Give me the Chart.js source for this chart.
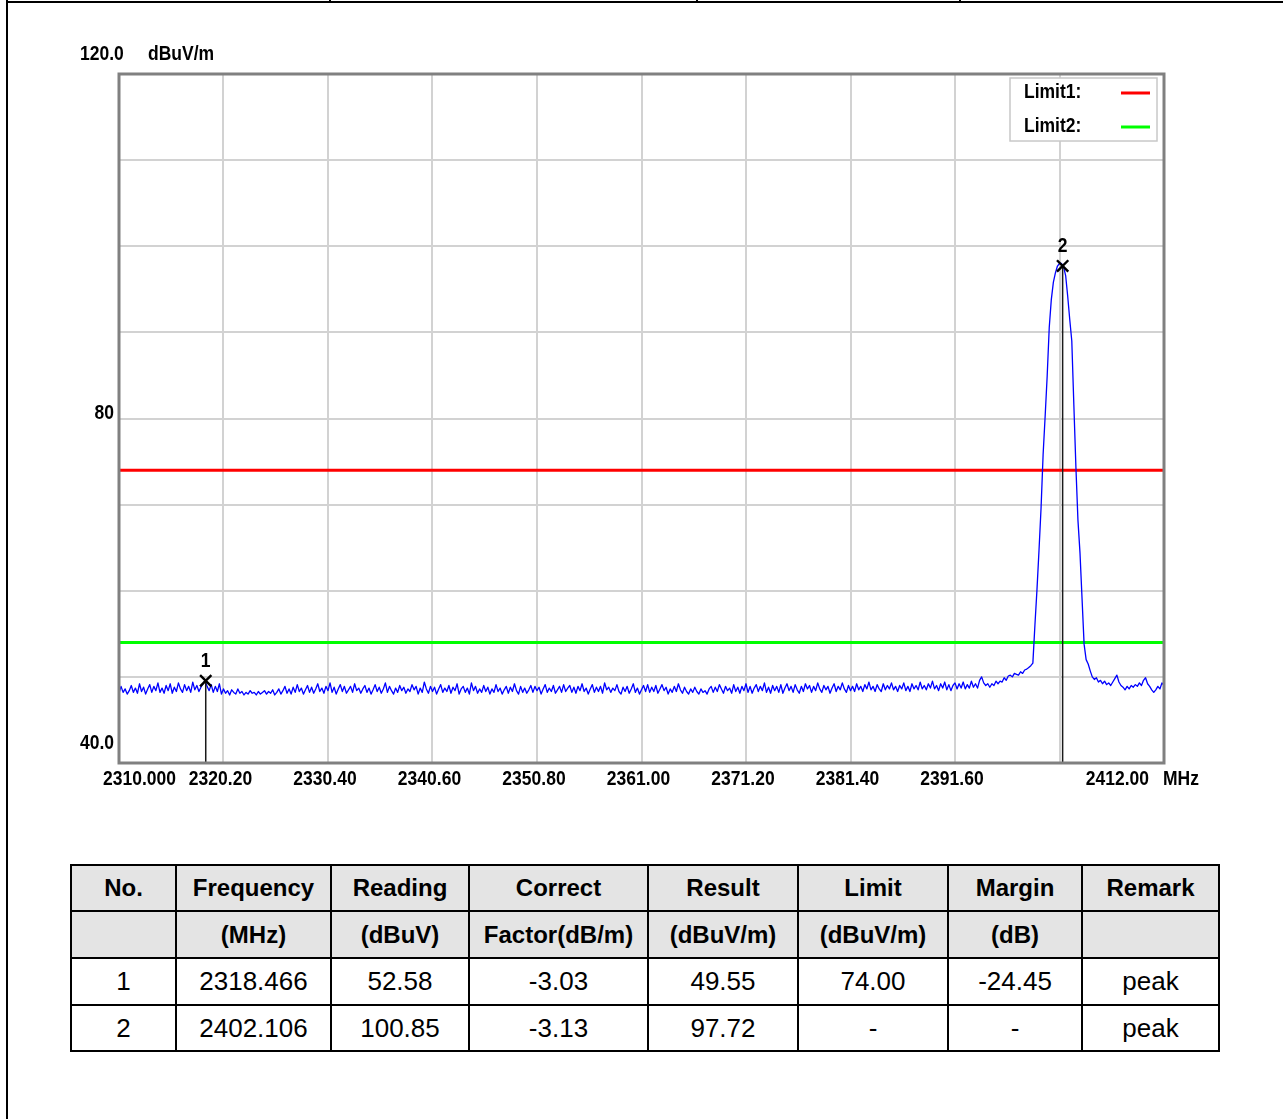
<!DOCTYPE html>
<html>
<head>
<meta charset="utf-8">
<script src="https://cdn.jsdelivr.net/npm/chart.js@4.4.1/dist/chart.umd.min.js"></script>
<style>
html,body{margin:0;padding:0;background:#fff;}
body{width:1283px;height:1119px;position:relative;overflow:hidden;font-family:"Liberation Sans",Arial,sans-serif;}
#topline{position:absolute;left:6px;top:1px;width:1277px;height:2px;background:#000;}
#leftline{position:absolute;left:6px;top:0;width:2px;height:1119px;background:#000;}
.vtick{position:absolute;top:0;width:2px;height:3px;background:#000;}
#chartbox{position:absolute;left:0;top:0;width:1283px;height:820px;}
#tbl{position:absolute;left:70px;top:864px;border-collapse:collapse;table-layout:fixed;}
#tbl td{border:2px solid #000;text-align:center;padding:0;white-space:nowrap;color:#000;}
#tbl tr.h td{background:#e4e4e4;font-weight:bold;font-size:24px;}
#tbl tr.d td{font-size:26px;}
</style>
</head>
<body>
<div id="topline"></div>
<div id="leftline"></div>
<div class="vtick" style="left:329px"></div>
<div class="vtick" style="left:696px"></div>
<div class="vtick" style="left:959px"></div>
<div id="chartbox"><canvas id="c" width="1283" height="820"></canvas></div>
<table id="tbl"></table>
<script>
// ---------- data ----------
const FREQ_MIN = 2310, FREQ_MAX = 2412;
const LEVEL_MIN = 40, LEVEL_MAX = 120;
const xTickValues = [2310, 2320.2, 2330.4, 2340.6, 2350.8, 2361, 2371.2, 2381.4, 2391.6, 2401.8, 2412];
const xTickLabels = ["2310.000","2320.20","2330.40","2340.60","2350.80","2361.00","2371.20","2381.40","2391.60","","2412.00"];
const yTickValues = [40, 50, 60, 70, 80, 90, 100, 110, 120];
const yLabelValues = [120, 80, 40];
const yLabels = ["120.0", "80", "40.0"];
const yUnit = "dBuV/m";
const xUnit = "MHz";

const traceStart = 2310;   // sweep start (MHz)
const traceStep = 0.2;     // sweep step (MHz)
const traceValues = [
48.1,48.9,48.2,48.6,48.0,48.4,49.0,48.2,48.7,48.1,49.2,48.3,48.8,48.0,48.6,49.1,48.2,48.9,48.4,49.3,
48.2,48.7,48.1,49.0,48.4,49.2,48.1,48.8,48.3,49.3,48.6,48.2,49.1,48.4,48.9,48.2,49.4,48.5,49.0,48.3,
48.8,49.2,49.6,48.9,48.4,49.1,48.2,48.9,48.3,49.2,48.0,48.6,48.1,48.4,47.9,48.5,48.2,48.0,48.6,48.1,
48.3,47.9,48.2,48.0,48.4,48.1,48.2,47.9,48.3,48.0,48.2,48.4,48.0,48.3,48.1,48.5,47.9,48.2,48.6,48.0,
48.4,48.9,48.1,48.6,48.0,48.8,48.2,49.1,48.3,48.7,48.0,48.5,49.0,48.2,48.8,48.1,48.6,49.2,48.3,48.7,
48.1,48.9,48.4,49.3,48.2,48.8,48.0,48.6,49.1,48.3,48.9,48.1,48.5,48.9,48.2,49.2,48.4,48.7,48.1,48.6,
49.0,48.2,48.7,48.0,48.5,49.1,48.3,48.8,48.1,48.6,49.3,48.2,48.9,48.4,48.0,48.7,48.2,49.0,48.4,48.8,
48.1,48.6,48.3,49.1,48.5,48.9,48.0,48.7,48.2,49.4,48.6,48.1,48.9,48.3,48.8,48.0,48.6,49.1,48.2,48.7,
48.3,49.0,48.1,48.8,48.4,49.2,48.0,48.6,48.9,48.2,48.7,48.0,49.3,48.4,48.9,48.1,48.6,48.2,49.0,48.3,
48.8,48.0,48.6,48.2,49.1,48.3,48.7,48.0,48.5,48.9,48.1,48.8,48.3,49.2,48.4,48.0,48.9,48.2,48.7,48.1,
48.5,49.0,48.2,48.9,48.4,48.8,48.0,48.6,49.1,48.2,48.7,48.3,49.0,48.1,48.5,48.9,48.2,49.1,48.3,48.7,
49.0,48.2,48.8,48.1,48.9,48.4,49.2,48.3,48.7,48.0,48.6,49.1,48.2,48.8,48.3,48.9,48.1,49.3,48.5,48.8,
48.2,48.7,48.4,49.1,48.3,48.0,48.8,48.3,48.9,48.1,48.6,49.2,48.2,48.7,48.0,48.5,49.0,48.3,49.1,48.2,
48.8,48.3,49.0,48.1,48.6,49.1,48.4,48.8,48.0,48.6,48.2,48.9,48.3,49.2,48.5,48.1,48.8,48.3,48.0,48.6,
48.2,48.8,48.3,48.0,48.6,48.2,48.4,48.0,48.6,48.9,48.2,48.8,48.3,49.1,48.6,48.1,48.9,48.4,48.7,48.1,
49.1,48.3,48.8,48.1,48.9,48.4,49.2,48.2,48.9,48.1,48.7,49.1,48.3,48.9,48.4,49.3,48.2,48.8,48.1,49.0,
48.4,48.9,48.2,49.1,48.1,48.7,49.2,48.4,48.9,48.2,49.1,48.5,48.1,48.9,48.3,49.2,48.6,49.0,48.2,48.9,
48.4,49.3,48.6,48.2,49.0,48.5,48.9,48.1,48.7,49.2,48.3,48.9,48.5,49.3,48.6,48.2,49.0,48.4,48.9,48.3,
49.2,48.5,48.9,48.3,49.1,48.6,49.4,48.5,48.9,48.3,49.1,48.6,48.3,49.2,48.5,49.0,48.6,49.3,48.5,48.9,
48.3,49.0,48.6,49.3,48.4,48.9,48.3,49.2,48.6,49.0,48.5,49.4,48.6,49.0,48.5,49.2,48.7,49.5,48.6,49.0,
48.4,49.2,48.7,49.4,48.5,49.1,48.4,49.0,49.3,48.6,49.2,48.7,49.4,48.6,49.1,48.7,49.5,48.8,49.2,48.7,
49.6,50.0,49.3,49.0,49.2,48.8,49.2,49.0,49.5,49.2,49.5,49.4,49.9,49.6,50.1,50.2,50.0,50.4,50.3,50.2,
50.6,50.4,50.8,50.9,51.1,
51.3,51.6,56.0,60.1,64.7,69.6,75.8,80.3,85.0,90.6,93.8,95.8,96.9,97.7,98.0,98.0,97.6,96.6,94.2,91.5,
89.0,81.6,74.4,68.2,64.4,59.1,53.8,52.0,51.5,50.7,
50.0,49.7,49.9,49.4,49.6,49.2,49.5,49.1,49.3,49.0,49.4,49.8,50.2,49.4,49.0,48.8,48.5,48.9,48.6,49.0,
48.8,49.1,48.9,49.3,49.0,49.6,49.9,49.2,48.9,48.5,48.2,48.5,48.9,48.6,49.3,49.0
];

const limitNames = ["Limit1:", "Limit2:"];
const limitValues = [74, 54];
const limitColors = ["#ff0000", "#00ff00"];

const markerNos = ["1", "2"];
const markerFreqs = [2318.466, 2402.106];
const markerResults = [49.55, 97.72];

const tableHead1 = ["No.", "Frequency", "Reading", "Correct", "Result", "Limit", "Margin", "Remark"];
const tableHead2 = ["", "(MHz)", "(dBuV)", "Factor(dB/m)", "(dBuV/m)", "(dBuV/m)", "(dB)", ""];
const colNo = ["1", "2"];
const colFreq = ["2318.466", "2402.106"];
const colReading = ["52.58", "100.85"];
const colFactor = ["-3.03", "-3.13"];
const colResult = ["49.55", "97.72"];
const colLimit = ["74.00", "-"];
const colMargin = ["-24.45", "-"];
const colRemark = ["peak", "peak"];

// ---------- table ----------
const colWidths = [105, 155, 138, 179, 150, 150, 134, 137];
const rowHeights = [46, 47, 47, 46];
(function buildTable(){
  const t = document.getElementById('tbl');
  let html = '<colgroup>' + colWidths.map(w => '<col style="width:' + w + 'px">').join('') + '</colgroup>';
  const rows = [
    {cls:'h', cells: tableHead1},
    {cls:'h', cells: tableHead2}
  ];
  for (let i = 0; i < colNo.length; i++) {
    rows.push({cls:'d', cells:[colNo[i], colFreq[i], colReading[i], colFactor[i], colResult[i], colLimit[i], colMargin[i], colRemark[i]]});
  }
  rows.forEach((r, ri) => {
    html += '<tr class="' + r.cls + '" style="height:' + rowHeights[ri] + 'px">' + r.cells.map(c => '<td>' + c + '</td>').join('') + '</tr>';
  });
  t.innerHTML = html;
})();

// ---------- chart ----------
const traceData = traceValues.map((v, i) => ({x: Math.round((traceStart + i * traceStep) * 10) / 10, y: v}));

const datasets = [];
markerFreqs.forEach((f, i) => {
  datasets.push({
    label: 'Marker ' + markerNos[i],
    data: [{x: f, y: markerResults[i]}, {x: f, y: LEVEL_MIN}],
    borderColor: '#1a1a1a', borderWidth: 1.5,
    pointRadius: [8, 0], pointStyle: 'crossRot', pointBorderWidth: 2.4,
    pointBorderColor: '#000', pointBackgroundColor: '#000',
    order: 0
  });
});
datasets.push({
  label: 'Trace', data: traceData,
  borderColor: '#0000ff', borderWidth: 1.3, pointRadius: 0, tension: 0, order: 1
});
limitValues.forEach((lv, i) => {
  datasets.push({
    label: limitNames[i], data: [{x: FREQ_MIN, y: lv}, {x: FREQ_MAX, y: lv}],
    borderColor: limitColors[i], borderWidth: 3, pointRadius: 0, order: 2
  });
});

const LABEL_FONT = 'bold 21px "Liberation Sans", Arial, sans-serif';
let condense = 1;
function txt(ctx, s, x, y, align) {
  ctx.save();
  ctx.font = LABEL_FONT;
  ctx.fillStyle = '#000';
  ctx.textBaseline = 'middle';
  const w = ctx.measureText(s).width * condense;
  let x0 = x;
  if (align === 'center') x0 = x - w / 2;
  else if (align === 'right') x0 = x - w;
  ctx.translate(x0, y);
  ctx.scale(condense, 1);
  ctx.textAlign = 'left';
  ctx.fillText(s, 0, 0);
  ctx.restore();
}

const decor = {
  id: 'decor',
  beforeDraw(chart) {
    const ctx = chart.ctx;
    ctx.save();
    ctx.font = LABEL_FONT;
    condense = 73 / ctx.measureText('2310.000').width;
    ctx.restore();
  },
  afterDatasetsDraw(chart) {
    const ctx = chart.ctx, ca = chart.chartArea;
    const xs = chart.scales.x, ys = chart.scales.y;
    // legend box
    const bx = ca.right - 154, by = ca.top + 4, bw = 147, bh = 63;
    ctx.save();
    ctx.fillStyle = '#fff';
    ctx.fillRect(bx, by, bw, bh);
    ctx.strokeStyle = '#c8c8c8'; ctx.lineWidth = 1.5;
    ctx.strokeRect(bx, by, bw, bh);
    limitNames.forEach((n, i) => {
      const yy = by + 14 + i * 34;
      txt(ctx, n, bx + 14, yy, 'left');
      ctx.strokeStyle = limitColors[i]; ctx.lineWidth = 3;
      ctx.beginPath(); ctx.moveTo(bx + 111, yy + 1); ctx.lineTo(bx + 140, yy + 1); ctx.stroke();
    });
    ctx.restore();
    // frame
    ctx.save();
    ctx.strokeStyle = '#808080'; ctx.lineWidth = 3;
    ctx.strokeRect(ca.left, ca.top, ca.right - ca.left, ca.bottom - ca.top);
    ctx.restore();
    // marker numbers
    markerFreqs.forEach((f, i) => {
      const px = xs.getPixelForValue(f), py = ys.getPixelForValue(markerResults[i]);
      txt(ctx, markerNos[i], px, py - 20, 'center');
    });
    // x tick labels
    const ly = ca.bottom + 16;
    xTickValues.forEach((v, i) => {
      const s = xTickLabels[i];
      if (!s) return;
      const px = xs.getPixelForValue(v);
      if (i === 0) txt(ctx, s, px - 16, ly, 'left');
      else if (i === xTickValues.length - 1) txt(ctx, s, px - 15, ly, 'right');
      else txt(ctx, s, px - 3, ly, 'center');
    });
    txt(ctx, xUnit, ca.right - 1, ly, 'left');
    // y labels
    yLabelValues.forEach((v, i) => {
      const py = ys.getPixelForValue(v);
      if (v === LEVEL_MAX || v === LEVEL_MIN) txt(ctx, yLabels[i], ca.left - 39, py - 20, 'left');
      else txt(ctx, yLabels[i], ca.left - 5, py - 5, 'right');
    });
    txt(ctx, yUnit, ca.left + 29, ys.getPixelForValue(LEVEL_MAX) - 20, 'left');
  }
};

new Chart(document.getElementById('c'), {
  type: 'line',
  data: {datasets},
  plugins: [decor],
  options: {
    responsive: false, devicePixelRatio: 1, animation: false,
    layout: {padding: {left: 119, top: 74, right: 119, bottom: 57}},
    plugins: {legend: {display: false}, tooltip: {enabled: false}},
    elements: {line: {borderJoinStyle: 'round'}},
    scales: {
      x: {
        type: 'linear', min: FREQ_MIN, max: FREQ_MAX,
        afterBuildTicks: s => { s.ticks = xTickValues.map(v => ({value: v})); },
        ticks: {display: false},
        grid: {color: '#d2d2d2', lineWidth: 2, drawTicks: false},
        border: {display: false}
      },
      y: {
        type: 'linear', min: LEVEL_MIN, max: LEVEL_MAX,
        afterBuildTicks: s => { s.ticks = yTickValues.map(v => ({value: v})); },
        ticks: {display: false},
        grid: {color: '#d2d2d2', lineWidth: 2, drawTicks: false},
        border: {display: false}
      }
    }
  }
});
</script>
</body>
</html>
